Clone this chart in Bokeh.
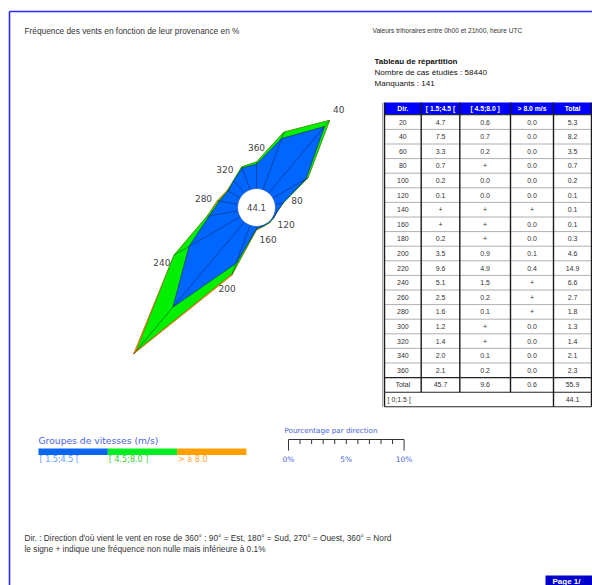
import numpy as np
from bokeh.plotting import figure
from bokeh.models import Range1d
from bokeh.embed import file_html
from bokeh.resources import INLINE
from bokeh.core.properties import value

# ---------------- data ----------------
dirs = [20, 40, 60, 80, 100, 120, 140, 160, 180, 200, 220, 240, 260, 280, 300, 320, 340, 360]
s1_txt = ["4.7", "7.5", "3.3", "0.7", "0.2", "0.1", "+", "+", "0.2", "3.5", "9.6", "5.1", "2.5", "1.6", "1.2", "1.4", "2.0", "2.1"]
s2_txt = ["0.6", "0.7", "0.2", "+", "0.0", "0.0", "+", "+", "+", "0.9", "4.9", "1.5", "0.2", "0.1", "+", "+", "0.1", "0.2"]
s3_txt = ["0.0", "0.0", "0.0", "0.0", "0.0", "0.0", "+", "0.0", "0.0", "0.1", "0.4", "+", "+", "+", "0.0", "0.0", "0.0", "0.0"]
tot_txt = ["5.3", "8.2", "3.5", "0.7", "0.2", "0.1", "0.1", "0.1", "0.3", "4.6", "14.9", "6.6", "2.7", "1.8", "1.3", "1.4", "2.1", "2.3"]
col_totals = ["45.7", "9.6", "0.6", "55.9"]
calm_label = "[ 0;1.5 ["
calm_value = "44.1"
plus_value = 0.05   # "+" : non-zero but below 0.1 %
label_dirs = [40, 80, 120, 160, 200, 240, 280, 320, 360]
classes = ["[ 1.5;4.5 [", "[ 4.5;8.0 ]", "> à 8.0"]
header = ["Dir.", "[ 1.5;4.5 [", "[ 4.5;8.0 ]", "> 8.0 m/s", "Total"]
scale_ticks = list(range(0, 11))
scale_labels = {0: "0%", 5: "5%", 10: "10%"}

def num(a):
    return np.array([plus_value if t == "+" else float(t) for t in a])

s1, s2, s3, tot = num(s1_txt), num(s2_txt), num(s3_txt), num(tot_txt)

# ---------------- styles ----------------
BLUE, GREEN, ORANGE = "#0066ff", "#00f000", "#ff9900"
ARIAL = value("Liberation Sans")
DJV = value("DejaVu Sans")

W, H = 592, 585
p = figure(width=W, height=H, x_range=Range1d(0, W), y_range=Range1d(H, 0),
           output_backend="svg", toolbar_location=None, min_border=0,
           x_axis_location=None, y_axis_location=None)
p.grid.visible = False
p.outline_line_color = None

# page frame
p.segment(x0=[9, 9], y0=[11, 11], x1=[600, 9], y1=[11, 600], line_color="#2b2bff", line_width=1.6)

# titles
p.text(x=[24], y=[30], text=["Fréquence des vents en fonction de leur provenance en %"],
       text_font=ARIAL, text_font_size="8.3px", text_color="#333333", text_baseline="middle")
p.text(x=[372], y=[30], text=["Valeurs trihoraires entre 0h00 et 21h00, heure UTC"],
       text_font=ARIAL, text_font_size="6.6px", text_color="#333333", text_baseline="middle")
p.text(x=[374], y=[61], text=["Tableau de répartition"], text_font=ARIAL, text_font_size="8px",
       text_font_style="bold", text_color="#111111", text_baseline="middle")
p.text(x=[374, 374], y=[72, 83], text=["Nombre de cas étudiés : 58440", "Manquants : 141"],
       text_font=ARIAL, text_font_size="8.1px", text_color="#111111", text_baseline="middle")

# ---------------- wind rose ----------------
cx, cy, r0, k = 256, 207, 19, 11.56
th = np.deg2rad(dirs)

def pts(v):
    r = r0 + k * np.asarray(v)
    return cx + r * np.sin(th), cy - r * np.cos(th)

ox, oy = pts(tot)
gx, gy = pts(s1 + s2)
bx, by = pts(s1)
p.patch(ox, oy, fill_color=ORANGE, line_color="#c06a00", line_width=0.8)
p.patch(gx, gy, fill_color=GREEN, line_color="#109010", line_width=0.5)
p.patch(bx, by, fill_color=BLUE, line_color="#10245a", line_width=0.6)
ix, iy = pts(np.zeros(len(dirs)))
p.segment(x0=ix, y0=iy, x1=ox, y1=oy, line_color="#101830", line_width=0.5, line_alpha=0.85)
p.circle(x=[cx], y=[cy], radius=r0, fill_color="white", line_color="#2a5bbf", line_width=0.8)
p.text(x=[cx], y=[cy], text=[calm_value], text_font=DJV, text_font_size="8.5px",
       text_color="#444444", text_align="center", text_baseline="middle")

li = [dirs.index(d) for d in label_dirs]
lth = th[li]
lr = r0 + k * tot[li] + 14
p.text(x=cx + lr * np.sin(lth), y=cy - lr * np.cos(lth), text=[str(d) for d in label_dirs],
       text_font=DJV, text_font_size="9px", text_color="#444444",
       text_align="center", text_baseline="middle")

# ---------------- legend ----------------
p.text(x=[38], y=[440], text=["Groupes de vitesses (m/s)"], text_font=DJV, text_font_size="9.2px",
       text_color="#4a63e0", text_baseline="middle")
lx0, lw = 38, 69.3
lab_cols = ["#5aa0ff", "#30d030", "#ffa62e"]
lefts = [lx0 + i * lw for i in range(len(classes))]
p.quad(left=lefts, right=[l + lw for l in lefts], top=[448] * 3, bottom=[454.5] * 3,
       fill_color=["#0a66f0", "#00ee22", "#ffa000"], line_color=None)
p.text(x=[l + 1 for l in lefts], y=[459] * 3, text=classes, text_font=DJV, text_font_size="8px",
       text_color=lab_cols, text_baseline="middle")

# scale bar
sx0, sy = 288, 439
p.text(x=[284], y=[430], text=["Pourcentage par direction"], text_font=DJV, text_font_size="7.2px",
       text_color="#4a63e0", text_baseline="middle")
p.segment(x0=[sx0], y0=[sy], x1=[sx0 + k * 10], y1=[sy], line_color="#333333", line_width=1)
tx = [sx0 + k * t for t in scale_ticks]
ty1 = [sy + (11 if t in (0, 10) else 4.5) for t in scale_ticks]
p.segment(x0=tx, y0=[sy] * len(tx), x1=tx, y1=ty1, line_color="#333333", line_width=1)
p.text(x=[sx0 + k * t for t in scale_labels], y=[459] * 3, text=list(scale_labels.values()),
       text_font=DJV, text_font_size="7.5px", text_color="#4a63e0",
       text_align="center", text_baseline="middle")

# ---------------- table ----------------
xe = [384, 420.7, 459.3, 510, 553, 591]
t_top, h_bot, rh = 102, 114.3, 14.6
nrow = len(dirs)
p.quad(left=[xe[0]], right=[xe[-1]], top=[t_top], bottom=[h_bot], fill_color="#0000ff", line_color=None)
xc = [(xe[i] + xe[i + 1]) / 2 for i in range(5)]
p.text(x=xc, y=[(t_top + h_bot) / 2] * 5, text=header, text_font=ARIAL, text_font_size="6.8px",
       text_font_style="bold", text_color="white", text_align="center", text_baseline="middle")

rows = [[str(d), a, b, c, t] for d, a, b, c, t in zip(dirs, s1_txt, s2_txt, s3_txt, tot_txt)]
rows.append(["Total"] + col_totals)
tx_, ty_, tt_ = [], [], []
for r, row in enumerate(rows):
    yc = h_bot + rh * r + rh / 2
    for c, val in enumerate(row):
        tx_.append(xc[c]); ty_.append(yc); tt_.append(val)
p.text(x=tx_, y=ty_, text=tt_, text_font=ARIAL, text_font_size="7px", text_color="#333333",
       text_align="center", text_baseline="middle")
y_tot = h_bot + rh * nrow
y_calm = y_tot + rh
y_end = y_calm + rh
p.text(x=[xe[0] + 3], y=[y_calm + rh / 2], text=[calm_label], text_font=ARIAL, text_font_size="7px",
       text_color="#333333", text_baseline="middle")
p.text(x=[xc[4]], y=[y_calm + rh / 2], text=[calm_value], text_font=ARIAL, text_font_size="7px",
       text_color="#333333", text_align="center", text_baseline="middle")

hy = [h_bot + rh * i for i in range(1, nrow)]
p.segment(x0=[xe[0]] * len(hy), y0=hy, x1=[xe[-1]] * len(hy), y1=hy, line_color="#9a9a9a", line_width=0.8)
p.segment(x0=[xe[0]] * 4, y0=[h_bot, y_tot, y_calm, y_end], x1=[xe[-1]] * 4, y1=[h_bot, y_tot, y_calm, y_end],
          line_color="#222222", line_width=1.1)
p.segment(x0=xe, y0=[t_top] * 6, x1=xe, y1=[y_calm] * 6, line_color="#1a1a1a", line_width=1.4)
p.segment(x0=[xe[0], xe[4], xe[5]], y0=[y_calm] * 3, x1=[xe[0], xe[4], xe[5]], y1=[y_end] * 3,
          line_color="#1a1a1a", line_width=1.4)
p.segment(x0=[xe[0] - 2], y0=[t_top], x1=[xe[0] - 2], y1=[y_end], line_color="#aaaaaa", line_width=1)

# footnotes
p.text(x=[24, 24], y=[537, 548],
       text=["Dir. : Direction d'où vient le vent en rose de 360° : 90° = Est, 180° = Sud, 270° = Ouest, 360° = Nord",
             "le signe + indique une fréquence non nulle mais inférieure à 0.1%"],
       text_font=ARIAL, text_font_size="8.3px", text_color="#333333", text_baseline="middle")

# page tag
p.quad(left=[545], right=[600], top=[575], bottom=[590], fill_color="#0000cc", line_color=None)
p.text(x=[552], y=[580.5], text=["Page 1/"], text_font=ARIAL, text_font_size="8px", text_font_style="bold",
       text_color="white", text_baseline="middle")

open("out.html", "w").write(file_html(p, INLINE))
